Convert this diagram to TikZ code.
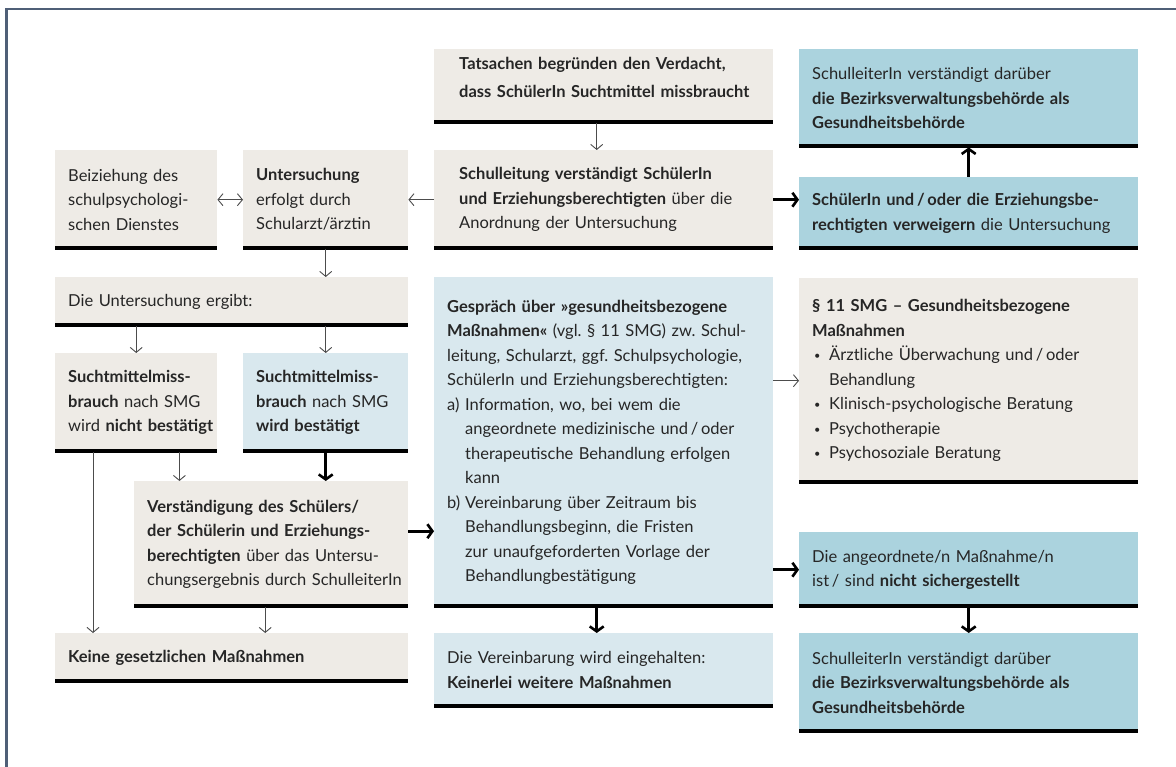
\documentclass[tikz,border=0pt]{standalone}
\usepackage{fontspec}
\setmainfont{Lato}
\frenchspacing
\usetikzlibrary{arrows.meta}
\definecolor{tanfill}{HTML}{EEEBE6}
\definecolor{skyfill}{HTML}{D9E8EE}
\definecolor{tealfill}{HTML}{ABD3DE}
\definecolor{framecol}{HTML}{4F5F77}
\definecolor{inkcol}{HTML}{262626}
\newcommand{\lbl}[1]{\makebox[18pt][l]{#1}}
\newcommand{\blt}{\hspace*{2pt}\makebox[15pt][l]{\raisebox{1pt}{\fontsize{11}{11}\selectfont\textbullet}}}
\tikzset{
  flowbox/.style={rectangle, anchor=north west, inner sep=0pt, align=left,
    text=inkcol, font=\fontsize{16.5}{24.5}\selectfont,
    execute at begin node={\leftskip=13pt\rightskip=-30pt plus 1fil\relax},
    path picture={\draw[line width=6pt] (path picture bounding box.south west) -- (path picture bounding box.south east);}},
  wide pad/.style={execute at begin node={\leftskip=25pt\relax}},
  tan box/.style={flowbox, fill=tanfill},
  sky box/.style={flowbox, fill=skyfill},
  teal box/.style={flowbox, fill=tealfill},
  thin arrow/.style={->, >={Straight Barb[length=5pt,width=12pt]}, draw=black!70, line width=0.9pt},
  bold arrow/.style={->, >={Straight Barb[length=5pt,width=14pt]}, draw=black, line width=2.6pt}
}
\begin{document}
\begin{tikzpicture}[x=1pt,y=-1pt]
\fill[white] (0,0) rectangle (1176,767);
\useasboundingbox (0,0) rectangle (1176,767);
\draw[framecol, line width=2.5pt] (6.5,767) -- (6.5,9) -- (1176,9);

% top row
\node[tan box, wide pad, font=\fontsize{16.5}{28}\selectfont, text width=339pt, minimum height=74pt] (tatsachen) at (434,49)
  {\textbf{Tatsachen begründen den Verdacht,}\\ \textbf{dass SchülerIn Suchtmittel missbraucht}\rule[-18pt]{0pt}{1pt}};
\node[tan box, wide pad, text width=339pt, minimum height=99pt] (schulleitung) at (434,150)
  {\textbf{Schulleitung verständigt SchülerIn}\\ \textbf{und Erziehungsberechtigten} über die\\ Anordnung der Untersuchung};
\node[teal box, text width=339pt, minimum height=98pt] (behoerdeoben) at (799,49)
  {SchulleiterIn verständigt darüber\\ \textbf{die Bezirksverwaltungsbehörde als}\\ \textbf{Gesundheitsbehörde}};
\node[teal box, text width=339pt, minimum height=72pt] (verweigern) at (799,177)
  {\textbf{SchülerIn und\,/\,oder die Erziehungsbe-}\\ \textbf{rechtigten verweigern} die Untersuchung};
\node[tan box, text width=162pt, minimum height=99pt] (beiziehung) at (55,150)
  {Beiziehung des\\ schulpsychologi-\\ schen Dienstes};
\node[tan box, text width=165pt, minimum height=99pt] (untersuchung) at (243,150)
  {\textbf{Untersuchung}\\ erfolgt durch\\ Schularzt/ärztin};

% left column
\node[tan box, text width=353pt, minimum height=49pt] (ergibt) at (55,277)
  {Die Untersuchung ergibt:};
\node[tan box, text width=162pt, minimum height=99pt] (nicht) at (55,353)
  {\textbf{Suchtmittelmiss-}\\ \textbf{brauch} nach SMG\\ wird \textbf{nicht bestätigt}};
\node[sky box, text width=165pt, minimum height=99pt] (bestaetigt) at (243,353)
  {\textbf{Suchtmittelmiss-}\\ \textbf{brauch} nach SMG\\ \textbf{wird bestätigt}};
\node[tan box, text width=274pt, minimum height=126pt] (verstaendigung) at (134,481)
  {\textbf{Verständigung des Schülers/}\\ \textbf{der Schülerin und Erziehungs-}\\ \textbf{berechtigten} über das Untersu-\\ chungsergebnis durch SchulleiterIn};
\node[tan box, text width=353pt, minimum height=49pt] (keine) at (55,633)
  {\textbf{Keine gesetzlichen Maßnahmen}};

% middle column
\node[sky box, text width=339pt, minimum height=330pt] (gespraech) at (434,277)
  {\textbf{Gespräch über »gesundheitsbezogene}\\ \textbf{Maßnahmen«} (vgl. § 11 SMG) zw. Schul-\\ leitung, Schularzt, ggf. Schulpsychologie,\\ SchülerIn und Erziehungsberechtigten:\\
   \lbl{a)}Information, wo, bei wem die\\ \lbl{}angeordnete medizinische und\,/\,oder\\ \lbl{}therapeutische Behandlung erfolgen\\ \lbl{}kann\\
   \lbl{b)}Vereinbarung über Zeitraum bis\\ \lbl{}Behandlungsbeginn, die Fristen\\ \lbl{}zur unaufgeforderten Vorlage der\\ \lbl{}Behandlungbestätigung};
\node[sky box, text width=339pt, minimum height=74pt] (eingehalten) at (434,633)
  {Die Vereinbarung wird eingehalten:\\ \textbf{Keinerlei weitere Maßnahmen}};

% right column
\node[tan box, text width=339pt, minimum height=205pt] (paragraph) at (799,278)
  {\textbf{§ 11 SMG – Gesundheitsbezogene}\\ \textbf{Maßnahmen}\\ \blt Ärztliche Überwachung und\,/\,oder\\ \hspace*{17pt}Behandlung\\ \blt Klinisch-psychologische Beratung\\ \blt Psychotherapie\\ \blt Psychosoziale Beratung};
\node[teal box, text width=339pt, minimum height=75pt] (nichtsicher) at (799,532)
  {Die angeordnete/n Maßnahme/n\\ ist\,/ sind \textbf{nicht sichergestellt}};
\node[teal box, text width=339pt, minimum height=99pt] (behoerdeunten) at (799,633)
  {SchulleiterIn verständigt darüber\\ \textbf{die Bezirksverwaltungsbehörde als}\\ \textbf{Gesundheitsbehörde}};

% connectors
\draw[thin arrow] ([xshift=-7pt]tatsachen.south) -- ([xshift=-7pt]schulleitung.north);
\draw[thin arrow] (schulleitung.west) -- (untersuchung.east);
\draw[thin arrow, <->] (beiziehung.east) -- (untersuchung.west);
\draw[bold arrow] (schulleitung.east) -- (schulleitung.east -| verweigern.west);
\draw[bold arrow] (verweigern.north) -- (behoerdeoben.south);
\draw[thin arrow] (untersuchung.south) -- (untersuchung.south |- ergibt.north);
\draw[thin arrow] (nicht.north |- ergibt.south) -- (nicht.north);
\draw[thin arrow] (bestaetigt.north |- ergibt.south) -- (bestaetigt.north);
\coordinate (nichtA) at ([xshift=-38pt]nicht.south east);
\coordinate (nichtB) at ([xshift=38pt]nicht.south west);
\draw[thin arrow] (nichtA) -- (nichtA |- verstaendigung.north);
\draw[thin arrow] (nichtB) -- (nichtB |- keine.north);
\draw[bold arrow] (bestaetigt.south) -- (bestaetigt.south |- verstaendigung.north);
\coordinate (verstA) at ([xshift=-6pt]verstaendigung.south);
\draw[thin arrow] (verstA) -- (verstA |- keine.north);
\coordinate (verstB) at ([yshift=13pt]verstaendigung.east);
\draw[bold arrow] (verstB) -- (verstB -| gespraech.west);
\draw[thin arrow] (gespraech.east |- paragraph.west) -- (paragraph.west);
\draw[bold arrow] (gespraech.east |- nichtsicher.west) -- (nichtsicher.west);
\draw[bold arrow] ([xshift=-7pt]gespraech.south) -- ([xshift=-7pt]eingehalten.north);
\draw[bold arrow] (nichtsicher.south) -- (behoerdeunten.north);
\end{tikzpicture}
\end{document}
